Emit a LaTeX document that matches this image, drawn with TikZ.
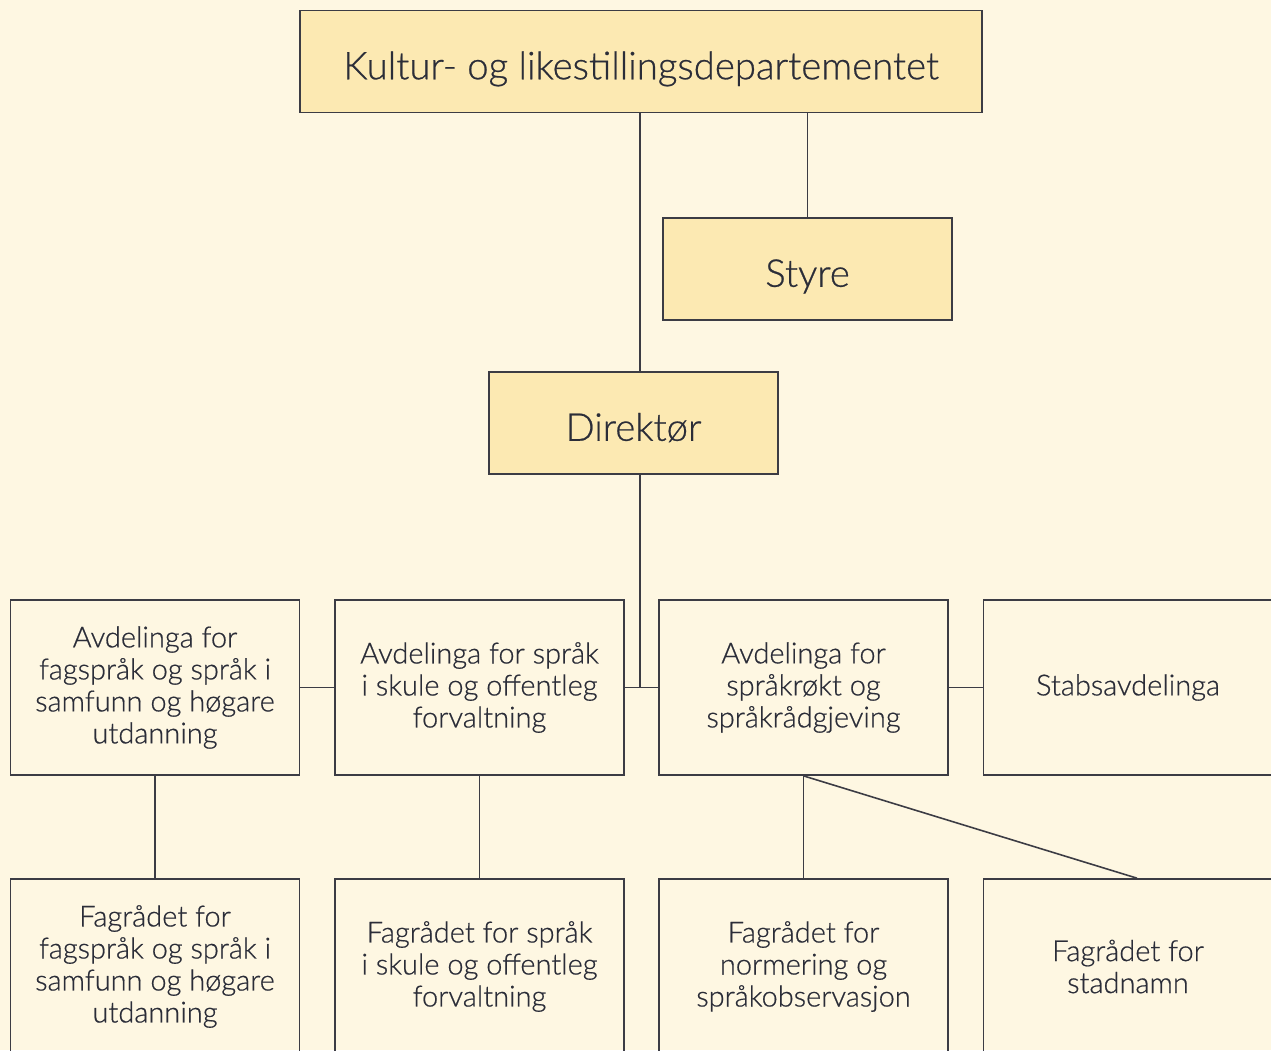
\documentclass[tikz,border=0pt]{standalone}
\usepackage{fontspec}
\setmainfont{Lato}[UprightFont={* Light}, UprightFeatures={FakeBold=0.6}]
\usepackage{tikz}

\definecolor{paper}{HTML}{FEF7E2}
\definecolor{gold}{HTML}{FCE9B2}
\definecolor{ink}{HTML}{2B2D38}
\definecolor{rule}{HTML}{3C3C44}

\tikzset{
  unit/.style={draw=rule, line width=0.45pt, text=ink, align=center,
    minimum width=2.89cm, minimum height=1.75cm, inner sep=0pt,
    font=\fontsize{8.25}{9.1}\selectfont},
  head/.style={unit, fill=gold, minimum height=1.02cm,
    text height=10.1pt, text depth=0pt,
    font=\fontsize{10.9}{12}\selectfont},
  link/.style={draw=rule, line width=0.45pt}
}

\begin{document}
\begin{tikzpicture}[x=0.01cm, y=-0.01cm]
	%\draw[style=help lines] (0, 0) grid[step=100] (1271, 1050);
	\fill [paper] (0, 0) rectangle (1271, 1050);
	\useasboundingbox (0, 0) rectangle (1271, 1050);
	%Ministry, board and director
	\node [head, minimum width=6.82cm] (kld) at (641, 61.5) {Kultur- og likestillingsdepartementet};
	\node [head] (styre) at (807.5, 269) {Styre};
	\node [head] (dir) at (633.5, 423) {Direktør};
	%Departments
	\node [unit] (avd1) at (155, 687.5) {Avdelinga for\\fagspråk og språk i\\samfunn og høgare\\utdanning};
	\node [unit] (avd2) at (479.5, 687.5) {Avdelinga for språk\\i skule og offentleg\\forvaltning};
	\node [unit] (avd3) at (803.5, 687.5) {Avdelinga for\\språkrøkt og\\språkrådgjeving};
	\node [unit] (stab) at (1128, 687.5) {Stabsavdelinga};
	%Councils
	\node [unit] (fag1) at (155, 966.5) {Fagrådet for\\fagspråk og språk i\\samfunn og høgare\\utdanning};
	\node [unit] (fag2) at (479.5, 966.5) {Fagrådet for språk\\i skule og offentleg\\forvaltning};
	\node [unit] (fag3) at (803.5, 966.5) {Fagrådet for\\normering og\\språkobservasjon};
	\node [unit] (fag4) at (1128, 966.5) {Fagrådet for\\stadnamn};
	%Lines
	\coordinate (trunk) at (640, 687.5);
	\draw [link] (kld.south -| trunk) -- (dir.north -| trunk);
	\draw [link] (dir.south -| trunk) -- (trunk);
	\draw [link] (kld.south -| styre.north) -- (styre.north);
	\draw [link] (avd1.east) -- (avd2.west);
	\draw [link] (avd2.east) -- (avd3.west);
	\draw [link] (avd3.east) -- (stab.west);
	\draw [link] (avd1.south) -- (fag1.north);
	\draw [link] (avd2.south) -- (fag2.north);
	\draw [link] (avd3.south) -- (fag3.north);
	\draw [link] (avd3.south) -- ([xshift=0.09cm]fag4.north);
\end{tikzpicture}
\end{document}
